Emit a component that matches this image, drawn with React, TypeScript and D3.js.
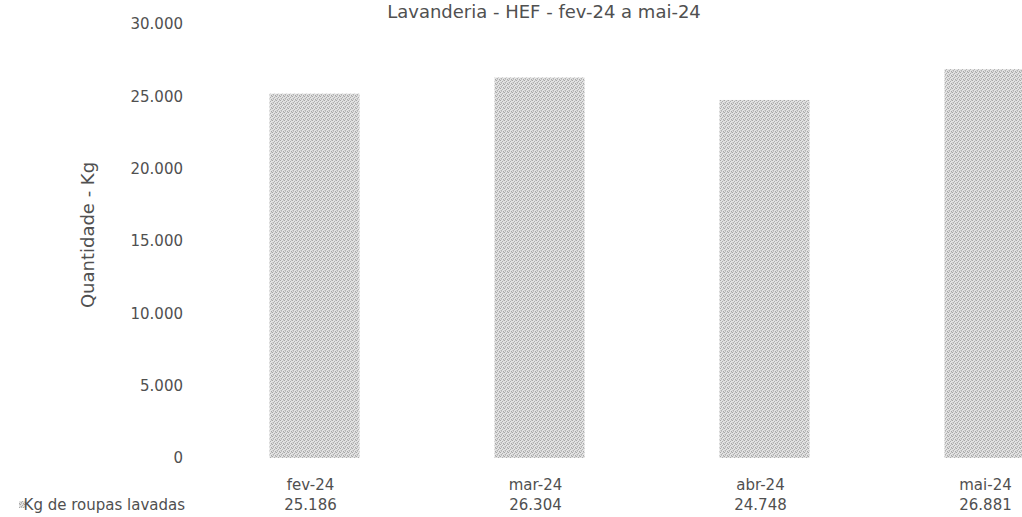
import React from "react";
import * as d3 from "d3";

const title = "Lavanderia  - HEF - fev-24 a mai-24";
const categories = ["fev-24", "mar-24", "abr-24", "mai-24"];
const values = [25186, 26304, 24748, 26881];
const valueLabels = ["25.186", "26.304", "24.748", "26.881"];
const seriesName = "Kg de roupas lavadas";
const yTicks = [0, 5000, 10000, 15000, 20000, 25000, 30000];
const yTitle = "Quantidade - Kg";

const W = 1022;
const H = 517;
const FONT = "'DejaVu Sans', sans-serif";
const TEXT = "#505050";

export default function App() {
  const x = d3
    .scaleBand<string>()
    .domain(categories)
    .range([202, 1102])
    .paddingInner(0.6)
    .paddingOuter(0.3);
  const y = d3.scaleLinear().domain([0, 30000]).range([458, 24]);
  const fmt = (v: number) => d3.format(",")(v).replace(/,/g, ".");

  return (
    <svg
      width={W}
      height={H}
      style={{ position: "absolute", left: 0, top: 0, background: "#fff" }}
      fontFamily={FONT}
    >
      <defs>
        <pattern id="grain" width={4} height={4} patternUnits="userSpaceOnUse">
          <rect width={4} height={4} fill="#e2e2e2" />
          <rect x={0} y={0} width={1} height={1} fill="#a6a6a6" />
          <rect x={2} y={1} width={1} height={1} fill="#acacac" />
          <rect x={1} y={2} width={1} height={1} fill="#b2b2b2" />
          <rect x={3} y={3} width={1} height={1} fill="#a8a8a8" />
          <rect x={3} y={0} width={1} height={1} fill="#c6c6c6" />
          <rect x={1} y={3} width={1} height={1} fill="#c2c2c2" />
          <rect x={0} y={2} width={1} height={1} fill="#cfcfcf" />
        </pattern>
      </defs>

      <text x={544} y={18} textAnchor="middle" fontSize={18} fill={TEXT}>
        {title}
      </text>

      {yTicks.map((t) => (
        <text
          key={t}
          x={183}
          y={y(t)}
          dy="0.35em"
          textAnchor="end"
          fontSize={15}
          fill={TEXT}
        >
          {fmt(t)}
        </text>
      ))}

      <text
        transform={`translate(88,235) rotate(-90)`}
        textAnchor="middle"
        dy="0.35em"
        fontSize={18}
        fill={TEXT}
      >
        {yTitle}
      </text>

      {categories.map((c, i) => (
        <rect
          key={c}
          x={x(c)}
          y={y(values[i])}
          width={x.bandwidth()}
          height={y(0) - y(values[i])}
          fill="url(#grain)"
        />
      ))}

      {categories.map((c) => (
        <text
          key={c}
          x={(x(c) as number) + x.bandwidth() / 2 - 4}
          y={485}
          dy="0.35em"
          textAnchor="middle"
          fontSize={15}
          fill={TEXT}
        >
          {c}
        </text>
      ))}

      {categories.map((c, i) => (
        <text
          key={c + "v"}
          x={(x(c) as number) + x.bandwidth() / 2 - 4}
          y={505}
          dy="0.35em"
          textAnchor="middle"
          fontSize={15}
          fill={TEXT}
        >
          {valueLabels[i]}
        </text>
      ))}

      <rect x={19} y={501} width={7} height={7} fill="url(#grain)" />
      <text x={185} y={505} dy="0.35em" textAnchor="end" fontSize={15} fill={TEXT}>
        {seriesName}
      </text>
    </svg>
  );
}
